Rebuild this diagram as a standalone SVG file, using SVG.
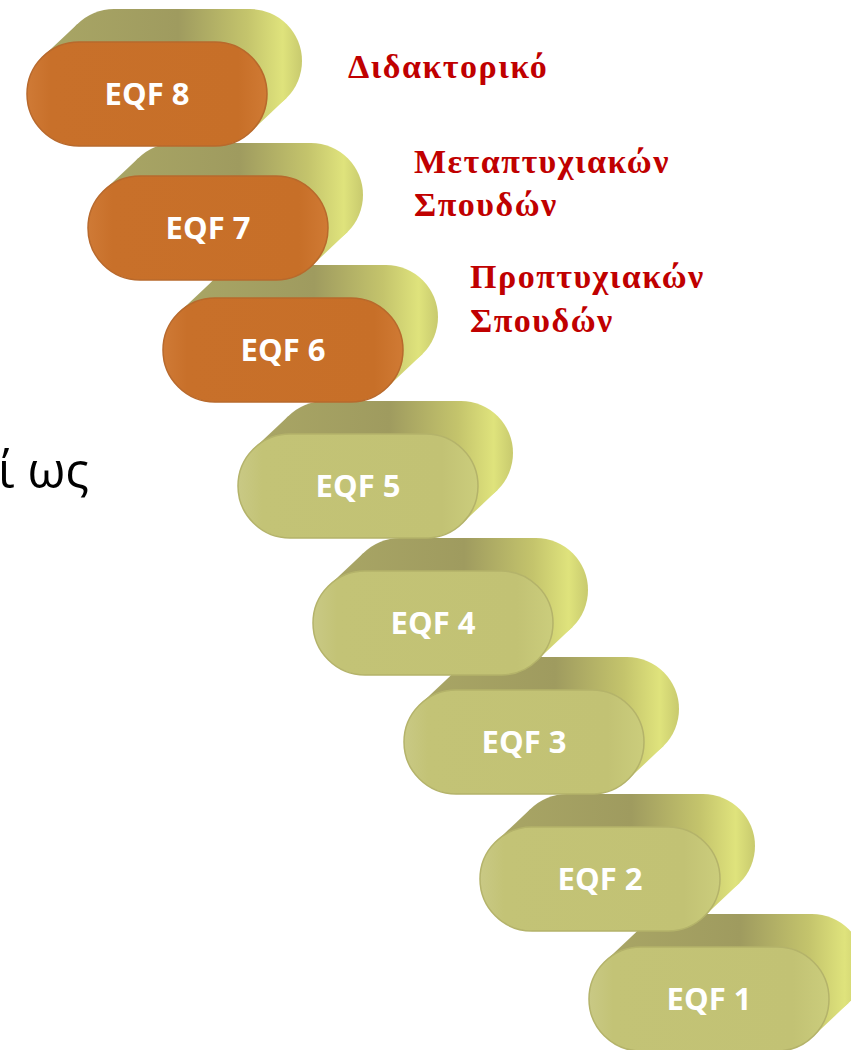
<svg xmlns="http://www.w3.org/2000/svg" xmlns:xlink="http://www.w3.org/1999/xlink" width="851" height="1050" viewBox="0 0 851 1050">
<style>
.lbl{font-family:"Open Sans","Liberation Sans",sans-serif;font-weight:bold;font-size:31px;fill:#ffffff;text-anchor:middle}
.red{font-family:"Liberation Serif","Times New Roman",serif;font-weight:bold;font-size:34px;fill:#c00000;letter-spacing:1.5px}
.blk{font-family:"Open Sans","Liberation Sans",sans-serif;font-size:49px;fill:#000000}
</style>
<defs>
<linearGradient id="gBack" gradientUnits="userSpaceOnUse" x1="-120" y1="0" x2="155" y2="0">
<stop offset="0" stop-color="#aaa766"/>
<stop offset="0.55" stop-color="#9f9b5f"/>
<stop offset="0.8" stop-color="#c4c46c"/>
<stop offset="0.93" stop-color="#dfe37c"/>
<stop offset="1" stop-color="#c8ca6e"/>
</linearGradient>
<linearGradient id="gGreen" x1="0" y1="0" x2="1" y2="0">
<stop offset="0" stop-color="#c9c985"/>
<stop offset="0.1" stop-color="#c3c376"/>
<stop offset="0.85" stop-color="#c2c274"/>
<stop offset="1" stop-color="#cbcd7c"/>
</linearGradient>
<linearGradient id="gOrange" x1="0" y1="0" x2="1" y2="0">
<stop offset="0" stop-color="#cf7a36"/>
<stop offset="0.1" stop-color="#c8702a"/>
<stop offset="0.88" stop-color="#c76f28"/>
<stop offset="1" stop-color="#d07a34"/>
</linearGradient>
<g id="body">
<rect x="-85" y="-85" width="240" height="104" rx="52" fill="url(#gBack)"/>
<polygon points="-104.8,-36.8 -69.8,-69.8 139.8,3.8 104.8,36.8" fill="url(#gBack)"/>
</g>
</defs>

<text class="blk" x="89" y="488" text-anchor="end">ί ως</text>

<g id="eqf1" transform="translate(709,999)">
<use xlink:href="#body"/>
<rect x="-120" y="-52" width="240" height="104" rx="52" fill="url(#gGreen)" stroke="#b4b36a" stroke-width="1.5"/>
<text class="lbl" y="11">EQF 1</text>
</g>
<g id="eqf2" transform="translate(600,879)">
<use xlink:href="#body"/>
<rect x="-120" y="-52" width="240" height="104" rx="52" fill="url(#gGreen)" stroke="#b4b36a" stroke-width="1.5"/>
<text class="lbl" y="11">EQF 2</text>
</g>
<g id="eqf3" transform="translate(524,742)">
<use xlink:href="#body"/>
<rect x="-120" y="-52" width="240" height="104" rx="52" fill="url(#gGreen)" stroke="#b4b36a" stroke-width="1.5"/>
<text class="lbl" y="11">EQF 3</text>
</g>
<g id="eqf4" transform="translate(433,623)">
<use xlink:href="#body"/>
<rect x="-120" y="-52" width="240" height="104" rx="52" fill="url(#gGreen)" stroke="#b4b36a" stroke-width="1.5"/>
<text class="lbl" y="11">EQF 4</text>
</g>
<g id="eqf5" transform="translate(358,486)">
<use xlink:href="#body"/>
<rect x="-120" y="-52" width="240" height="104" rx="52" fill="url(#gGreen)" stroke="#b4b36a" stroke-width="1.5"/>
<text class="lbl" y="11">EQF 5</text>
</g>
<g id="eqf6" transform="translate(283,350)">
<use xlink:href="#body"/>
<rect x="-120" y="-52" width="240" height="104" rx="52" fill="url(#gOrange)" stroke="#b8692c" stroke-width="1.5"/>
<text class="lbl" y="11">EQF 6</text>
</g>
<g id="eqf7" transform="translate(208,228)">
<use xlink:href="#body"/>
<rect x="-120" y="-52" width="240" height="104" rx="52" fill="url(#gOrange)" stroke="#b8692c" stroke-width="1.5"/>
<text class="lbl" y="11">EQF 7</text>
</g>
<g id="eqf8" transform="translate(147,94)">
<use xlink:href="#body"/>
<rect x="-120" y="-52" width="240" height="104" rx="52" fill="url(#gOrange)" stroke="#b8692c" stroke-width="1.5"/>
<text class="lbl" y="11">EQF 8</text>
</g>

<g id="connectors"/>

<g id="labels">
<text class="red" x="348" y="78">Διδακτορικό</text>
<text class="red" x="414" y="173">Μεταπτυχιακών</text>
<text class="red" x="414" y="216">Σπουδών</text>
<text class="red" x="470" y="288">Προπτυχιακών</text>
<text class="red" x="470" y="332">Σπουδών</text>
</g>
</svg>
